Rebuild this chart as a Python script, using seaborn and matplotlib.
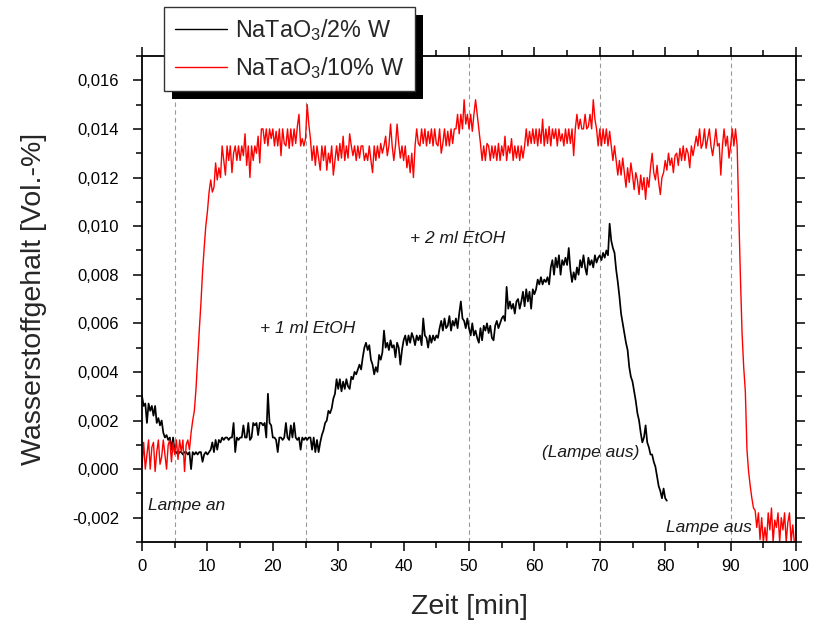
import numpy as np
import pandas as pd
import matplotlib
matplotlib.use("Agg")
import matplotlib.pyplot as plt
from matplotlib.ticker import MultipleLocator, FuncFormatter
from matplotlib.patches import Rectangle
import seaborn as sns

# GC readings, one every 0.25 min, hydrogen content in 1e-3 Vol.-%
STEP_MIN = 0.25

h2_10pct_W = [
    0.1, 1.1, 0.0, 0.6, 1.2, 0.0, 0.9, 1.1, -0.1, 0.7, 1.2, 0.2, 0.5, 1.2, 0.6, 0.0, 1.0, 1.2, 0.3, 1.1,
    0.6, 1.2, 0.4, 1.2, 0.7, 1.2, -0.1, 1.0, 1.2, 0.8, 1.5, 2.0, 2.4, 3.3, 4.5, 5.7, 6.8, 8.1, 9.1, 10.0,
    10.6, 11.4, 11.9, 11.4, 11.6, 12.6, 11.9, 12.4, 12.0, 13.3, 12.7, 12.1, 13.3, 12.7, 13.3, 12.2, 13.0, 13.3, 12.7, 13.3,
    12.7, 13.3, 12.9, 13.8, 12.5, 13.3, 12.0, 13.3, 12.7, 13.3, 13.0, 13.7, 12.6, 14.0, 14.0, 13.4, 14.0, 13.3, 14.0, 13.6,
    14.0, 13.3, 13.9, 13.3, 14.0, 12.9, 14.0, 13.4, 13.3, 14.0, 13.2, 14.0, 13.3, 14.0, 13.4, 14.1, 14.6, 13.3, 13.6, 13.3,
    13.6, 15.0, 14.2, 13.6, 12.7, 13.3, 12.5, 13.3, 12.8, 12.3, 13.3, 12.7, 13.3, 12.3, 13.0, 12.6, 13.3, 12.1, 12.7, 13.3,
    12.7, 13.4, 12.8, 13.7, 12.7, 13.3, 12.8, 13.8, 13.3, 12.9, 13.3, 12.7, 13.3, 12.8, 13.3, 13.3, 12.7, 13.0, 12.7, 13.3,
    12.7, 12.2, 13.3, 12.7, 13.3, 12.8, 13.4, 13.0, 13.3, 13.7, 12.9, 13.3, 14.2, 13.3, 12.7, 13.3, 14.2, 13.4, 12.8, 13.3,
    12.7, 13.3, 12.4, 12.9, 12.2, 13.0, 12.0, 13.3, 14.0, 13.4, 13.3, 14.0, 13.4, 14.0, 13.3, 13.9, 13.4, 14.0, 13.3, 14.0,
    13.4, 13.3, 14.0, 13.0, 13.4, 14.0, 13.3, 13.9, 13.3, 14.0, 13.4, 14.0, 14.0, 14.6, 13.8, 14.6, 14.0, 15.2, 14.2, 14.6,
    14.0, 14.6, 13.9, 14.6, 15.2, 14.6, 14.0, 13.4, 12.7, 13.3, 12.7, 13.4, 13.3, 12.7, 13.3, 12.8, 13.3, 12.7, 13.4, 12.7,
    13.3, 12.9, 13.7, 12.7, 13.3, 13.0, 13.6, 12.7, 13.3, 12.8, 13.3, 12.7, 13.3, 12.8, 13.3, 14.0, 13.3, 13.9, 13.4, 14.0,
    13.4, 14.0, 13.3, 14.0, 13.4, 14.4, 13.3, 14.0, 13.4, 14.1, 13.3, 14.0, 13.6, 14.0, 13.3, 14.0, 13.5, 13.8, 13.3, 14.0,
    13.4, 14.0, 13.4, 14.0, 12.9, 14.0, 14.6, 14.0, 14.4, 14.0, 14.0, 14.6, 14.0, 14.1, 14.6, 14.0, 15.2, 14.4, 14.0, 13.3,
    14.0, 13.3, 14.0, 13.4, 14.0, 13.3, 13.9, 13.3, 12.7, 13.3, 12.7, 12.1, 12.7, 12.1, 12.8, 12.2, 11.6, 12.4, 11.8, 12.6,
    12.1, 11.5, 12.2, 11.9, 11.3, 12.1, 11.5, 12.0, 11.1, 12.0, 11.6, 12.4, 13.0, 12.2, 11.9, 12.5, 11.8, 11.3, 12.0, 12.2,
    12.7, 12.3, 13.0, 12.5, 12.8, 12.2, 12.9, 13.0, 12.5, 13.2, 12.7, 13.3, 12.7, 13.2, 13.0, 12.4, 13.3, 12.9, 13.3, 13.7,
    13.3, 14.0, 13.2, 13.4, 14.0, 13.2, 13.6, 14.0, 13.3, 12.9, 13.4, 14.0, 13.3, 13.4, 12.1, 13.3, 14.0, 13.3, 13.7, 12.8,
    13.3, 14.0, 13.3, 14.0, 13.3, 10.5, 7.9, 5.6, 4.2, 3.2, 0.8, -0.1, -0.7, -1.2, -1.6, -1.7, -2.4, -1.8, -2.9, -2.0,
    -3.0, -2.4, -3.0, -1.8, -2.5, -1.6, -3.0, -2.1, -2.4, -1.8, -3.0, -2.0, -2.5, -1.8, -3.0, -2.2, -1.8, -3.0, -2.3, -3.0,
    -3.0,
]

h2_2pct_W = [
    3.0, 2.6, 2.7, 1.9, 2.7, 2.4, 2.6, 2.2, 2.6, 1.9, 2.1, 1.8, 2.0, 1.5, 1.3, 1.4, 1.2, 1.3, 0.8, 1.3,
    0.7, 0.7, 0.6, 0.7, 0.7, 0.6, 0.7, 0.7, 0.6, 0.7, 0.0, 0.7, 0.6, 0.7, 0.6, 0.7, 0.7, 0.3, 0.6, 0.7,
    0.6, 0.7, 0.8, 1.1, 0.7, 1.2, 0.8, 1.2, 1.1, 1.3, 1.2, 1.3, 1.3, 1.2, 1.3, 1.3, 1.9, 0.7, 1.3, 1.2,
    1.3, 1.3, 1.8, 1.3, 1.3, 1.9, 1.2, 1.3, 1.9, 1.8, 1.9, 1.4, 1.9, 1.9, 1.8, 1.9, 1.3, 3.1, 1.9, 1.8,
    1.3, 1.3, 1.2, 0.7, 1.3, 1.3, 1.2, 1.3, 1.9, 1.3, 1.2, 1.8, 1.3, 1.9, 1.3, 1.2, 1.3, 0.8, 1.3, 1.2,
    1.3, 1.2, 1.3, 1.3, 0.8, 1.3, 0.7, 1.2, 0.7, 1.1, 1.4, 1.6, 1.9, 2.0, 2.4, 2.3, 2.5, 2.9, 3.1, 3.7,
    3.3, 3.7, 3.2, 3.6, 3.3, 3.7, 3.4, 3.3, 3.8, 3.7, 4.0, 3.9, 4.1, 4.3, 4.1, 4.6, 5.0, 5.2, 4.9, 5.1,
    4.5, 4.3, 3.9, 4.2, 4.0, 4.7, 4.5, 4.8, 5.7, 5.0, 5.2, 4.9, 5.3, 5.0, 5.1, 4.6, 5.2, 5.0, 4.3, 4.9,
    5.3, 5.5, 5.1, 5.5, 5.2, 5.6, 5.4, 5.1, 5.5, 5.3, 5.5, 5.1, 6.2, 5.5, 5.4, 5.0, 5.5, 5.2, 5.5, 5.3,
    5.5, 5.4, 5.8, 6.1, 5.7, 6.2, 5.8, 5.9, 6.3, 5.7, 6.1, 5.9, 6.2, 5.8, 6.4, 6.9, 6.2, 6.1, 5.8, 6.2,
    5.8, 5.5, 6.0, 5.5, 5.7, 5.4, 5.2, 5.8, 5.3, 5.9, 5.7, 6.0, 5.6, 5.9, 5.4, 5.3, 5.9, 6.1, 5.8, 6.0,
    6.2, 6.3, 6.1, 7.5, 6.6, 6.9, 6.6, 6.8, 6.4, 6.9, 7.0, 6.6, 6.9, 7.3, 6.7, 7.4, 6.9, 7.3, 6.6, 7.4,
    7.2, 7.4, 7.8, 7.6, 7.9, 7.6, 7.8, 7.7, 7.9, 7.6, 8.3, 8.6, 8.0, 8.7, 8.3, 8.8, 8.0, 8.6, 8.4, 8.7,
    8.4, 9.1, 8.2, 7.7, 8.1, 7.8, 8.3, 8.0, 8.6, 8.3, 8.8, 8.3, 8.0, 8.7, 8.4, 8.6, 8.3, 8.8, 8.5, 8.7,
    8.8, 8.6, 8.9, 8.7, 9.0, 8.8, 10.1, 9.4, 9.1, 8.9, 8.2, 7.7, 7.1, 6.4, 6.0, 5.6, 5.2, 4.9, 4.2, 3.8,
    3.6, 3.2, 2.8, 2.3, 2.0, 1.5, 1.1, 1.3, 1.8, 1.1, 0.9, 0.6, 0.6, 0.3, 0.1, -0.3, -0.7, -0.9, -1.2, -0.8,
    -1.2, -1.3,
]

series_labels = ["NaTaO$_3$/2% W", "NaTaO$_3$/10% W"]
series_colors = ["#000000", "#ff0000"]
series_widths = [1.25, 1.0]

event_times = [5, 25, 50, 70, 90]

note_texts = ["Lampe an", "+ 1 ml EtOH", "+ 2 ml EtOH", "(Lampe aus)", "Lampe aus"]
note_x = [0.9, 18.0, 41.0, 61.2, 93.2]
note_y = [-0.0015, 0.0058, 0.0095, 0.0007, -0.0024]
note_ha = ["left", "left", "left", "left", "right"]

# ---------------------------------------------------------------------------
frames = []
for label, values in zip(series_labels, [h2_2pct_W, h2_10pct_W]):
    v = np.asarray(values) / 1000.0
    frames.append(pd.DataFrame({
        "Zeit": np.arange(len(v)) * STEP_MIN,
        "H2": v,
        "Probe": label,
    }))
data = pd.concat(frames, ignore_index=True)

sns.set_style("ticks")
plt.rcParams["font.family"] = ["Liberation Sans", "DejaVu Sans"]
plt.rcParams["mathtext.fontset"] = "custom"
plt.rcParams["mathtext.rm"] = "Liberation Sans"
plt.rcParams["mathtext.it"] = "Liberation Sans:italic"
plt.rcParams["mathtext.bf"] = "Liberation Sans:bold"

fig = plt.figure(figsize=(8.13, 6.21), dpi=100)
ax = fig.add_axes([0.1747, 0.1272, 0.8044, 0.7826])

for t in event_times:
    ax.axvline(t, color="#9a9a9a", lw=0.8, ls=(0, (4, 3)), zorder=1)

handles = []
for label, color, lw in zip(series_labels, series_colors, series_widths):
    sns.lineplot(
        data=data[data["Probe"] == label], x="Zeit", y="H2",
        color=color, estimator=None, sort=False, lw=lw,
        legend=False, ax=ax, zorder=2,
    )
    handles.append(ax.get_lines()[-1])

for txt, x, y, ha in zip(note_texts, note_x, note_y, note_ha):
    ax.text(x, y, txt, ha=ha, va="center", style="italic",
            fontsize=12.5, color="#1a1a1a")

ax.set_xlim(0, 100)
ax.set_ylim(-0.003, 0.017)
ax.xaxis.set_major_locator(MultipleLocator(10))
ax.xaxis.set_minor_locator(MultipleLocator(5))
ax.yaxis.set_major_locator(MultipleLocator(0.002))
ax.yaxis.set_minor_locator(MultipleLocator(0.001))
ax.yaxis.set_major_formatter(FuncFormatter(
    lambda v, _: f"{v:.3f}".replace(".", ",").replace("-0,000", "0,000")))

for side in ["left", "right", "top", "bottom"]:
    ax.spines[side].set_visible(True)
    ax.spines[side].set_linewidth(1.3)
    ax.spines[side].set_color("black")

ax.tick_params(which="both", direction="out", top=True, right=True,
               width=1.1, color="black", labelsize=12, labelcolor="black")
ax.tick_params(which="major", length=6.5)
ax.tick_params(which="minor", length=4.5)
ax.tick_params(axis="y", which="major", pad=10)
ax.tick_params(axis="x", which="major", pad=6)

ax.set_xlabel("Zeit [min]", fontsize=20.5, labelpad=14)
ax.set_ylabel("Wasserstoffgehalt [Vol.-%]", fontsize=20.5, labelpad=18)

leg = fig.legend(
    handles, series_labels,
    loc="upper left", bbox_to_anchor=(164 / 813, 1 - 7 / 621),
    bbox_transform=fig.transFigure, borderaxespad=0,
    fontsize=16.8, frameon=True, fancybox=False, framealpha=1,
    edgecolor="#333333", borderpad=0.45, handlelength=2.25,
    handletextpad=0.34, labelspacing=0.5,
)
leg.get_frame().set_linewidth(1.0)
for h in leg.legend_handles:
    h.set_linewidth(1.0)

# solid drop shadow behind the legend box
fig.canvas.draw()
bb = leg.get_window_extent()
off = 8
shadow_bb = fig.transFigure.inverted().transform(
    [[bb.x0 + off, bb.y0 - off], [bb.x1 + off, bb.y1 - off]])
fig.add_artist(Rectangle(
    shadow_bb[0], shadow_bb[1][0] - shadow_bb[0][0], shadow_bb[1][1] - shadow_bb[0][1],
    transform=fig.transFigure, facecolor="black", edgecolor="none", zorder=4))

fig.savefig("out.png", dpi=100)
